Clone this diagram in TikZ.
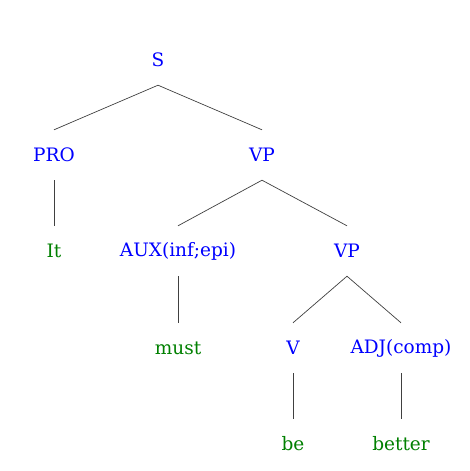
\documentclass[tikz,border=0pt]{standalone}
\usepackage{fontspec}
\setmainfont{DejaVu Serif}
\usetikzlibrary{positioning}
\definecolor{catblue}{RGB}{0,0,255}
\definecolor{wordgreen}{RGB}{0,128,0}
\begin{document}
\begin{tikzpicture}[x=1pt,y=-1pt]
        \tikzstyle{cat}=[rectangle,minimum height=50pt,inner sep=0pt,text=catblue,font=\fontsize{18.5}{20}\selectfont]
        \tikzstyle{word}=[cat,text=wordgreen]
        \tikzstyle{branch}=[draw,black!75,line width=0.7pt]
        \useasboundingbox [fill=white] (0,0) rectangle (469,471);
        \node [cat] (s) at (158, 60) {S};
        \node [cat] (pro) at (54, 155) {PRO};
        \node [cat] (vp1) at (262, 155) {VP};
        \node [word] (it) at (54, 251) {It};
        \node [cat] (aux) at (178, 251) {AUX(inf;epi)};
        \node [cat] (vp2) at (347, 251) {VP};
        \node [word] (must) at (178, 348) {must};
        \node [cat] (v) at (293, 348) {V};
        \node [cat] (adj) at (401, 348) {ADJ(comp)};
        \node [word] (be) at (293, 444) {be};
        \node [word] (better) at (401, 444) {better};
        \path [branch] (s.south) -- (pro.north);
        \path [branch] (s.south) -- (vp1.north);
        \path [branch] (pro.south) -- (it.north);
        \path [branch] (vp1.south) -- (aux.north);
        \path [branch] (vp1.south) -- (vp2.north);
        \path [branch] (aux.south) -- (must.north);
        \path [branch] (vp2.south) -- (v.north);
        \path [branch] (vp2.south) -- (adj.north);
        \path [branch] (v.south) -- (be.north);
        \path [branch] (adj.south) -- (better.north);
    \end{tikzpicture}
\end{document}
